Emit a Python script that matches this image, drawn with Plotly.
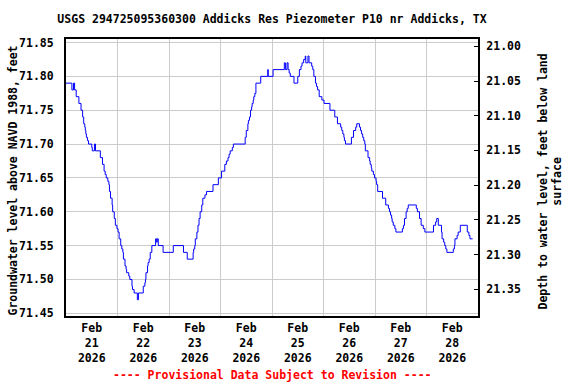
import plotly.graph_objects as go

# ---------------- data ----------------
times = [
    "2026-02-21 00:00", "2026-02-21 02:45", "2026-02-21 03:30", "2026-02-21 04:00", "2026-02-21 04:45",
    "2026-02-21 06:00", "2026-02-21 07:00", "2026-02-21 07:45", "2026-02-21 08:15", "2026-02-21 08:45",
    "2026-02-21 09:00", "2026-02-21 09:15", "2026-02-21 09:30", "2026-02-21 10:00", "2026-02-21 10:30",
    "2026-02-21 12:00", "2026-02-21 12:15", "2026-02-21 13:15", "2026-02-21 13:45", "2026-02-21 16:00",
    "2026-02-21 17:00", "2026-02-21 17:45", "2026-02-21 18:15", "2026-02-21 18:45", "2026-02-21 19:30",
    "2026-02-21 20:00", "2026-02-21 20:15", "2026-02-21 20:45", "2026-02-21 21:30", "2026-02-21 21:45",
    "2026-02-21 22:30", "2026-02-21 23:00", "2026-02-21 23:45",
    "2026-02-22 00:15", "2026-02-22 00:45", "2026-02-22 01:30", "2026-02-22 02:00", "2026-02-22 02:30",
    "2026-02-22 02:45", "2026-02-22 03:30", "2026-02-22 04:00", "2026-02-22 04:15", "2026-02-22 05:15",
    "2026-02-22 05:45", "2026-02-22 06:45", "2026-02-22 07:00", "2026-02-22 07:45", "2026-02-22 09:15",
    "2026-02-22 09:45", "2026-02-22 12:00", "2026-02-22 12:45", "2026-02-22 13:00", "2026-02-22 13:15",
    "2026-02-22 14:00", "2026-02-22 14:15", "2026-02-22 14:45", "2026-02-22 15:15", "2026-02-22 16:00",
    "2026-02-22 17:45", "2026-02-22 18:15", "2026-02-22 18:30", "2026-02-22 19:00", "2026-02-22 21:15",
    "2026-02-23 02:00", "2026-02-23 06:45", "2026-02-23 08:30", "2026-02-23 11:15", "2026-02-23 11:30",
    "2026-02-23 12:00", "2026-02-23 12:15", "2026-02-23 13:00", "2026-02-23 13:30", "2026-02-23 14:00",
    "2026-02-23 14:30", "2026-02-23 15:15", "2026-02-23 15:45", "2026-02-23 16:45", "2026-02-23 17:30",
    "2026-02-23 20:30", "2026-02-23 23:00",
    "2026-02-24 00:30", "2026-02-24 02:00", "2026-02-24 02:45", "2026-02-24 03:30", "2026-02-24 04:00",
    "2026-02-24 04:30", "2026-02-24 05:30", "2026-02-24 06:00", "2026-02-24 11:30", "2026-02-24 12:00",
    "2026-02-24 12:45", "2026-02-24 13:00", "2026-02-24 13:30", "2026-02-24 14:00", "2026-02-24 14:30",
    "2026-02-24 14:45", "2026-02-24 15:15", "2026-02-24 15:30", "2026-02-24 16:00", "2026-02-24 16:30",
    "2026-02-24 18:45", "2026-02-24 22:00", "2026-02-24 22:15",
    "2026-02-25 00:30", "2026-02-25 05:45", "2026-02-25 06:15", "2026-02-25 07:00", "2026-02-25 07:30",
    "2026-02-25 08:00", "2026-02-25 08:30", "2026-02-25 10:15", "2026-02-25 12:00", "2026-02-25 12:45",
    "2026-02-25 13:30", "2026-02-25 14:00", "2026-02-25 14:45", "2026-02-25 15:30", "2026-02-25 15:45",
    "2026-02-25 16:45", "2026-02-25 17:15", "2026-02-25 18:30", "2026-02-25 19:00", "2026-02-25 19:30",
    "2026-02-25 20:15", "2026-02-25 20:45", "2026-02-25 21:15", "2026-02-25 22:00", "2026-02-25 23:15",
    "2026-02-26 00:15", "2026-02-26 03:00", "2026-02-26 05:15", "2026-02-26 06:30", "2026-02-26 08:00",
    "2026-02-26 08:30", "2026-02-26 09:00", "2026-02-26 09:30", "2026-02-26 09:45", "2026-02-26 10:15",
    "2026-02-26 13:00", "2026-02-26 14:00", "2026-02-26 15:00", "2026-02-26 15:30", "2026-02-26 16:45",
    "2026-02-26 17:15", "2026-02-26 17:45", "2026-02-26 18:15", "2026-02-26 18:45", "2026-02-26 19:15",
    "2026-02-26 19:30", "2026-02-26 20:45", "2026-02-26 21:30", "2026-02-26 21:45", "2026-02-26 22:15",
    "2026-02-26 22:30", "2026-02-26 23:15", "2026-02-26 23:45",
    "2026-02-27 00:30", "2026-02-27 00:45", "2026-02-27 01:15", "2026-02-27 03:30", "2026-02-27 05:00",
    "2026-02-27 06:15", "2026-02-27 06:45", "2026-02-27 07:15", "2026-02-27 07:45", "2026-02-27 08:00",
    "2026-02-27 08:30", "2026-02-27 09:15", "2026-02-27 09:45", "2026-02-27 12:45", "2026-02-27 13:15",
    "2026-02-27 13:45", "2026-02-27 14:30", "2026-02-27 15:00", "2026-02-27 15:30", "2026-02-27 19:15",
    "2026-02-27 19:45", "2026-02-27 20:45", "2026-02-27 21:30", "2026-02-27 22:30", "2026-02-27 23:15",
    "2026-02-28 03:15", "2026-02-28 04:15", "2026-02-28 04:45", "2026-02-28 05:30", "2026-02-28 07:00",
    "2026-02-28 07:15", "2026-02-28 08:00", "2026-02-28 08:30", "2026-02-28 09:00", "2026-02-28 09:30",
    "2026-02-28 12:30", "2026-02-28 13:00", "2026-02-28 13:15", "2026-02-28 14:15", "2026-02-28 14:45",
    "2026-02-28 15:45", "2026-02-28 19:00", "2026-02-28 19:45", "2026-02-28 20:15", "2026-02-28 21:30",
]

levels = [
    71.79, 71.78, 71.79, 71.78, 71.77,
    71.76, 71.75, 71.74, 71.73, 71.725,
    71.72, 71.715, 71.71, 71.705, 71.70,
    71.695, 71.69, 71.70, 71.69, 71.68,
    71.67, 71.66, 71.655, 71.65, 71.645,
    71.64, 71.63, 71.62, 71.61, 71.60,
    71.59, 71.58, 71.575,
    71.57, 71.56, 71.55, 71.545, 71.54,
    71.53, 71.52, 71.515, 71.51, 71.505,
    71.50, 71.49, 71.485, 71.48, 71.47,
    71.48, 71.49, 71.495, 71.50, 71.51,
    71.52, 71.525, 71.53, 71.54, 71.55,
    71.56, 71.555, 71.56, 71.55, 71.54,
    71.55, 71.54, 71.53, 71.54, 71.545,
    71.55, 71.56, 71.57, 71.58, 71.59,
    71.60, 71.61, 71.62, 71.625, 71.63,
    71.64, 71.65,
    71.66, 71.67, 71.675, 71.68, 71.685,
    71.69, 71.695, 71.70, 71.71, 71.72,
    71.73, 71.735, 71.74, 71.75, 71.755,
    71.76, 71.765, 71.77, 71.775, 71.79,
    71.80, 71.81, 71.80,
    71.81, 71.82, 71.81, 71.82, 71.81,
    71.805, 71.80, 71.79, 71.80, 71.81,
    71.815, 71.82, 71.825, 71.83, 71.82,
    71.83, 71.82, 71.815, 71.81, 71.80,
    71.79, 71.785, 71.78, 71.77, 71.765,
    71.76, 71.75, 71.74, 71.73, 71.725,
    71.72, 71.715, 71.71, 71.705, 71.70,
    71.71, 71.72, 71.725, 71.73, 71.725,
    71.72, 71.715, 71.71, 71.705, 71.70,
    71.69, 71.68, 71.675, 71.67, 71.665,
    71.66, 71.655, 71.65,
    71.645, 71.64, 71.63, 71.62, 71.61,
    71.605, 71.60, 71.595, 71.59, 71.585,
    71.58, 71.575, 71.57, 71.575, 71.58,
    71.59, 71.60, 71.605, 71.61, 71.605,
    71.60, 71.59, 71.58, 71.575, 71.57,
    71.58, 71.585, 71.59, 71.58, 71.57,
    71.56, 71.555, 71.55, 71.545, 71.54,
    71.545, 71.55, 71.56, 71.565, 71.57,
    71.58, 71.57, 71.565, 71.56, 71.56,
]

left_ticks = [71.45, 71.50, 71.55, 71.60, 71.65, 71.70, 71.75, 71.80, 71.85]
right_ticks = [21.00, 21.05, 21.10, 21.15, 21.20, 21.25, 21.30, 21.35]

title_text = "USGS 294725095360300 Addicks Res Piezometer P10 nr Addicks, TX"
left_title = "Groundwater level above NAVD 1988, feet"
right_title = "Depth to water level, feet below land<br>surface"
footer_text = "---- Provisional Data Subject to Revision ----"

# ---------------- figure ----------------
FONT = "DejaVu Sans Mono"
fnt = dict(family=FONT, size=11.5, color="black", weight="bold")

fig = go.Figure()
fig.add_trace(go.Scatter(
    x=times, y=levels, mode="lines",
    line=dict(color="#0000ff", width=1, shape="hv"),
    showlegend=False, hoverinfo="skip",
))
# empty trace so the secondary (depth) axis is instantiated and drawn
fig.add_trace(go.Scatter(
    x=[], y=[], yaxis="y2", mode="lines",
    showlegend=False, hoverinfo="skip",
))

fig.update_layout(
    width=576, height=384,
    margin=dict(l=66, r=98, t=39, b=68, autoexpand=False),
    paper_bgcolor="white", plot_bgcolor="white",
    font=fnt,
    title=dict(text=title_text, x=0.5, xref="paper", xanchor="center",
               y=1 - 19 / 384, yref="container", yanchor="middle",
               font=dict(family=FONT, size=11.5, color="black", weight="bold")),
    xaxis=dict(
        type="date",
        range=["2026-02-21 00:00", "2026-03-01 00:00"],
        tick0="2026-02-21 12:00", dtick=86400000,
        tickformat="%b<br>%d<br>%Y",
        showgrid=False, ticks="", zeroline=False,
        showline=True, mirror=True, linecolor="black", linewidth=2,
        tickfont=fnt,
        minor=dict(tick0="2026-02-21 00:00", dtick=86400000, showgrid=True,
                   gridcolor="#cccccc", gridwidth=1, ticks=""),
    ),
    yaxis=dict(
        range=[71.446, 71.8552],
        tickvals=left_ticks, tickformat=".2f",
        showgrid=True, gridcolor="#cccccc", gridwidth=1,
        zeroline=False, ticks="", ticklabelstandoff=8,
        showline=True, mirror=True, linecolor="black", linewidth=2,
        tickfont=fnt,
    ),
    yaxis2=dict(
        overlaying="y", side="right", anchor="x",
        range=[21.3885, 20.9895], autorange=False,
        tickmode="array", tickvals=right_ticks, tickformat=".2f",
        showticklabels=True,
        showgrid=False, zeroline=False,
        ticks="inside", ticklen=4, tickcolor="black", tickwidth=1,
        ticklabelstandoff=4,
        showline=True, linecolor="black", linewidth=2,
        tickfont=fnt,
    ),
)

fig.add_annotation(text=left_title, textangle=-90, x=0, xref="paper", xshift=-54,
                   y=0.5, yref="paper", yshift=-3, showarrow=False,
                   xanchor="center", yanchor="middle", font=fnt)
fig.add_annotation(text=right_title, textangle=-90, x=1, xref="paper", xshift=72,
                   y=0.5, yref="paper", yshift=-4, showarrow=False,
                   xanchor="center", yanchor="middle", font=fnt)
fig.add_annotation(text=footer_text, x=0.5, xref="paper", y=0, yref="paper",
                   yshift=-59, showarrow=False, xanchor="center", yanchor="middle",
                   font=dict(family=FONT, size=11.5, color="red", weight="bold"))

# remove the browser's default 8px body margin so the 576x384 figure fills the window
fig.write_html("out.html",
               config={"displayModeBar": False, "staticPlot": True},
               post_script="document.body.style.margin='0px';document.body.style.overflow='hidden';")
